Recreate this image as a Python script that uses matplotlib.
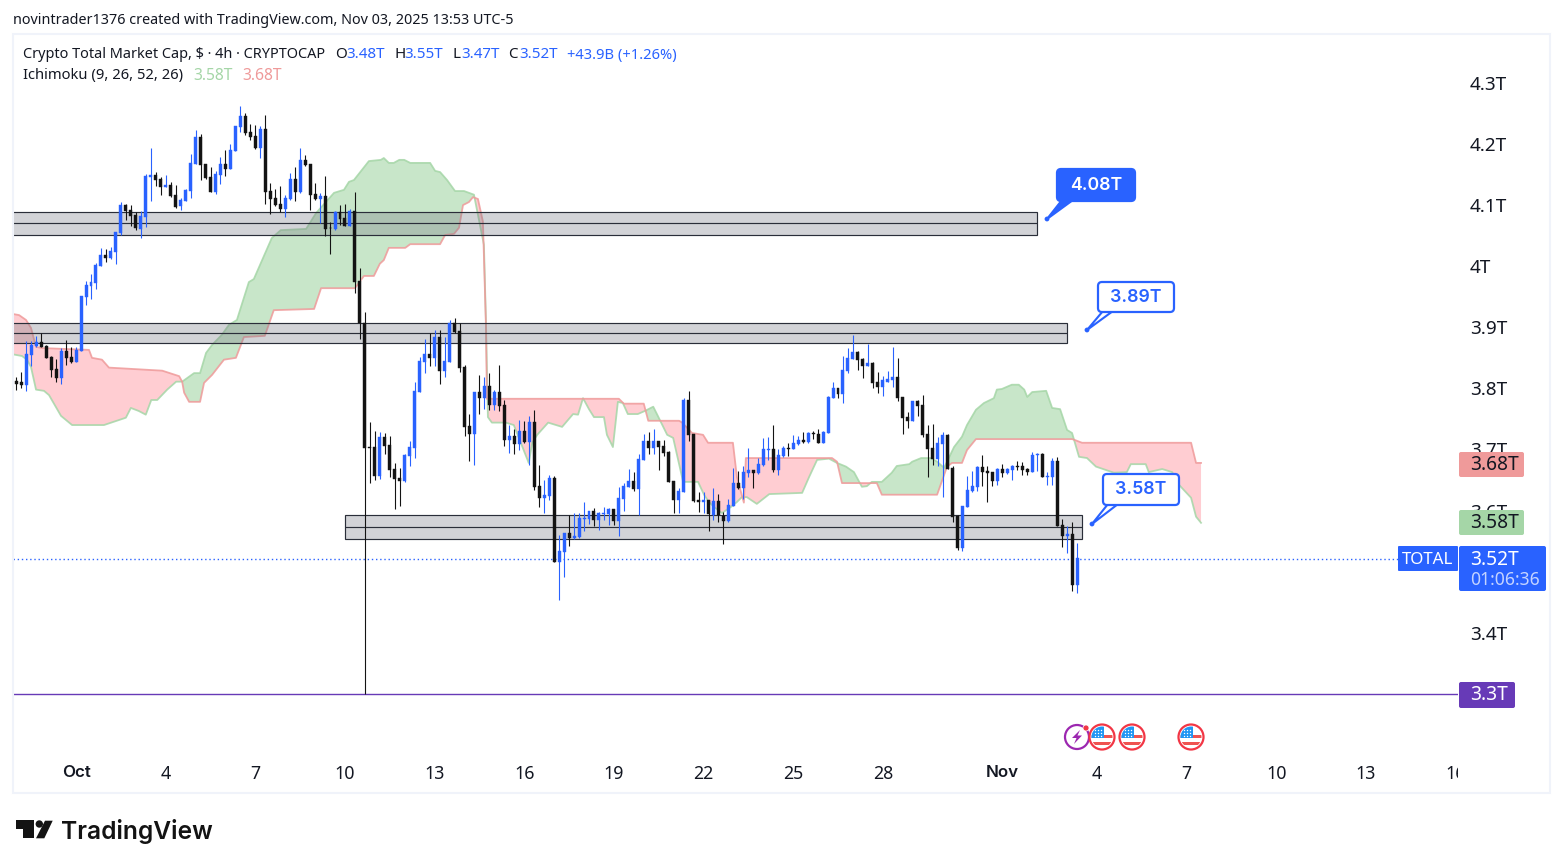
import numpy as np
import matplotlib
matplotlib.use('Agg')
import matplotlib.pyplot as plt
from matplotlib.patches import Rectangle, FancyBboxPatch, Circle, Polygon
from matplotlib.transforms import Affine2D

W, H = 1563, 868

# 4h candles, prices in trillions, one row is ten bars
opens = [3.812,
    3.812,3.810,3.806,3.855,3.870,3.876,3.869,3.852,3.831,3.817,
    3.861,3.852,3.843,3.862,3.950,3.968,3.973,4.000,4.018,4.014,
    4.023,4.054,4.100,4.092,4.084,4.061,4.081,4.146,4.149,4.143,
    4.130,4.133,4.117,4.099,4.107,4.123,4.167,4.212,4.167,4.146,
    4.122,4.149,4.167,4.159,4.189,4.228,4.246,4.220,4.213,4.194,
    4.225,4.123,4.112,4.102,4.094,4.110,4.143,4.122,4.174,4.167,
    4.118,4.110,4.115,4.063,4.061,4.089,4.079,4.066,4.091,3.976,
    3.907,3.704,3.704,3.657,3.721,3.707,3.668,3.654,3.649,3.690,
    3.703,3.794,3.843,3.856,3.850,3.884,3.829,3.843,3.907,3.894,
    3.835,3.739,3.725,3.794,3.784,3.804,3.773,3.794,3.773,3.716,
    3.722,3.709,3.730,3.712,3.745,3.640,3.621,3.624,3.654,3.516,
    3.532,3.564,3.555,3.557,3.586,3.586,3.600,3.585,3.595,3.595,
    3.603,3.583,3.619,3.639,3.649,3.636,3.683,3.714,3.703,3.714,
    3.706,3.696,3.649,3.617,3.631,3.781,3.725,3.618,3.614,3.618,
    3.593,3.616,3.591,3.583,3.608,3.645,3.637,3.662,3.667,3.662,
    3.675,3.699,3.701,3.667,3.690,3.703,3.701,3.709,3.716,3.712,
    3.727,3.725,3.711,3.727,3.784,3.801,3.791,3.829,3.848,3.860,
    3.848,3.837,3.842,3.811,3.802,3.811,3.814,3.819,3.786,3.753,
    3.747,3.780,3.773,3.725,3.703,3.685,3.709,3.724,3.670,3.591,
    3.539,3.606,3.632,3.639,3.672,3.665,3.663,3.649,3.668,3.662,
    3.667,3.673,3.673,3.668,3.663,3.691,3.693,3.655,3.655,3.681,
    3.577,3.559,3.562,3.478]
closes = [3.808,
    3.807,3.806,3.856,3.871,3.876,3.868,3.850,3.830,3.817,3.861,
    3.850,3.843,3.863,3.951,3.969,3.974,4.002,4.018,4.014,4.025,
    4.056,4.100,4.091,4.082,4.062,4.082,4.148,4.149,4.141,4.130,
    4.133,4.115,4.097,4.109,4.125,4.169,4.212,4.166,4.145,4.122,
    4.151,4.167,4.159,4.190,4.230,4.246,4.218,4.212,4.194,4.225,
    4.122,4.110,4.100,4.094,4.112,4.143,4.122,4.174,4.166,4.117,
    4.110,4.115,4.061,4.062,4.089,4.077,4.066,4.091,3.974,3.907,
    3.703,3.703,3.657,3.721,3.706,3.667,3.652,3.649,3.691,3.704,
    3.796,3.845,3.856,3.850,3.884,3.829,3.845,3.907,3.892,3.834,
    3.737,3.725,3.794,3.784,3.804,3.773,3.794,3.771,3.716,3.722,
    3.709,3.730,3.712,3.745,3.639,3.621,3.626,3.654,3.516,3.534,
    3.564,3.555,3.559,3.588,3.588,3.600,3.585,3.596,3.596,3.603,
    3.583,3.621,3.640,3.649,3.636,3.685,3.714,3.703,3.714,3.704,
    3.694,3.647,3.617,3.632,3.781,3.724,3.616,3.614,3.618,3.595,
    3.616,3.593,3.583,3.609,3.645,3.637,3.663,3.667,3.662,3.676,
    3.701,3.701,3.667,3.691,3.703,3.701,3.711,3.716,3.712,3.727,
    3.725,3.711,3.729,3.786,3.801,3.791,3.830,3.850,3.860,3.847,
    3.837,3.842,3.809,3.802,3.814,3.816,3.819,3.784,3.752,3.747,
    3.780,3.771,3.724,3.701,3.685,3.711,3.724,3.668,3.590,3.539,
    3.608,3.634,3.640,3.672,3.663,3.662,3.649,3.668,3.662,3.668,
    3.673,3.672,3.667,3.663,3.691,3.693,3.655,3.657,3.681,3.575,
    3.559,3.562,3.478,3.523]
highs = [3.820,
    3.819,3.827,3.877,3.877,3.885,3.890,3.871,3.853,3.848,3.866,
    3.879,3.868,3.867,3.951,3.976,3.987,4.005,4.030,4.028,4.032,
    4.056,4.105,4.101,4.100,4.088,4.091,4.151,4.194,4.154,4.146,
    4.149,4.137,4.133,4.111,4.127,4.184,4.223,4.217,4.167,4.163,
    4.156,4.179,4.190,4.200,4.230,4.262,4.250,4.233,4.231,4.230,
    4.248,4.136,4.127,4.131,4.117,4.153,4.163,4.194,4.182,4.168,
    4.136,4.120,4.148,4.072,4.091,4.100,4.102,4.094,4.122,3.997,
    3.925,3.745,3.730,3.729,3.727,3.722,3.678,3.670,3.693,3.714,
    3.811,3.852,3.881,3.890,3.896,3.896,3.884,3.912,3.916,3.907,
    3.838,3.758,3.794,3.822,3.819,3.825,3.797,3.838,3.781,3.740,
    3.734,3.748,3.747,3.755,3.765,3.675,3.650,3.658,3.657,3.560,
    3.564,3.592,3.596,3.596,3.614,3.600,3.604,3.598,3.606,3.604,
    3.603,3.639,3.645,3.668,3.663,3.693,3.725,3.729,3.734,3.714,
    3.716,3.698,3.649,3.637,3.784,3.796,3.725,3.631,3.631,3.618,
    3.637,3.627,3.598,3.619,3.670,3.665,3.673,3.703,3.667,3.686,
    3.719,3.721,3.740,3.701,3.706,3.711,3.724,3.722,3.729,3.729,
    3.730,3.734,3.730,3.788,3.811,3.801,3.853,3.866,3.888,3.861,
    3.850,3.873,3.843,3.827,3.821,3.829,3.868,3.850,3.786,3.762,
    3.780,3.781,3.789,3.740,3.742,3.721,3.729,3.725,3.673,3.593,
    3.608,3.657,3.665,3.673,3.691,3.673,3.663,3.670,3.676,3.670,
    3.675,3.681,3.680,3.670,3.696,3.694,3.694,3.663,3.686,3.688,
    3.586,3.575,3.582,3.547]
lows = [3.808,
    3.797,3.801,3.796,3.837,3.868,3.867,3.849,3.818,3.810,3.808,
    3.839,3.842,3.843,3.862,3.937,3.946,3.963,4.000,4.007,4.012,
    4.004,4.051,4.076,4.066,4.059,4.046,4.064,4.107,4.131,4.117,
    4.130,4.113,4.095,4.092,4.107,4.112,4.167,4.141,4.143,4.122,
    4.118,4.135,4.148,4.159,4.189,4.220,4.215,4.207,4.191,4.177,
    4.102,4.086,4.099,4.089,4.081,4.109,4.107,4.120,4.164,4.092,
    4.109,4.070,4.050,4.020,4.059,4.068,4.066,4.066,3.956,3.881,
    3.300,3.645,3.650,3.652,3.693,3.655,3.603,3.608,3.647,3.673,
    3.686,3.794,3.825,3.837,3.837,3.807,3.819,3.843,3.891,3.827,
    3.722,3.681,3.675,3.758,3.766,3.765,3.765,3.763,3.706,3.694,
    3.693,3.699,3.711,3.675,3.634,3.606,3.596,3.617,3.516,3.454,
    3.492,3.542,3.554,3.555,3.567,3.578,3.575,3.568,3.585,3.577,
    3.577,3.559,3.600,3.639,3.632,3.593,3.683,3.693,3.693,3.667,
    3.690,3.647,3.596,3.596,3.631,3.714,3.614,3.598,3.596,3.567,
    3.585,3.582,3.546,3.582,3.608,3.636,3.619,3.655,3.637,3.660,
    3.673,3.683,3.663,3.658,3.688,3.690,3.701,3.707,3.711,3.711,
    3.717,3.711,3.711,3.727,3.784,3.784,3.776,3.825,3.848,3.830,
    3.817,3.837,3.801,3.793,3.788,3.811,3.802,3.780,3.725,3.735,
    3.747,3.755,3.721,3.655,3.675,3.673,3.622,3.668,3.582,3.536,
    3.534,3.606,3.631,3.632,3.640,3.614,3.640,3.642,3.655,3.660,
    3.650,3.667,3.658,3.658,3.663,3.665,3.655,3.642,3.642,3.575,
    3.541,3.531,3.469,3.465]

# ichimoku leading spans, read at the bars where they change
span_a_bars = [0.14,2.14,3.15,3.95,4.96,6.56,7.57,9.98,12.2,18.6,21.2,23.0,24.0,25.6,27.0,28.1,29.3,31.3,33.1,34.3,
    36.7,37.9,39.1,40.3,42.3,43.7,45.3,47.7,48.7,52.3,54.1,59.2,61.2,64.8,66.8,67.8,68.8,71.8,74.2,74.8,
    75.8,76.8,77.9,78.9,80.1,84.1,85.1,86.1,87.5,89.1,90.9,92.9,94.9,95.3,95.7,96.5,99.3,100.9,103.9,104.6,
    105.6,107.8,110.6,112.8,113.8,114.8,116.0,117.0,119.0,119.6,120.8,121.8,122.8,123.8,125.8,127.2,128.9,129.7,131.7,132.9,
    134.9,137.9,139.1,140.1,141.1,142.7,144.5,145.7,146.7,147.7,149.7,152.2,158.8,160.2,161.8,164.2,165.8,167.6,169.2,170.8,
    171.8,172.8,174.8,176.8,177.8,180.3,180.9,182.7,184.7,185.9,187.3,187.9,189.3,190.9,191.9,193.7,195.3,197.3,197.9,198.9,
    200.9,202.3,203.4,204.0,205.0,207.8,209.0,210.6,212.0,213.0,214.4,216.0,217.8,221.4,224.0,224.8,227.8,228.4,231.1,233.1,
    234.5,236.9,237.9,238.9]
span_a = [3.856,3.853,3.847,3.835,3.798,3.796,3.789,3.755,3.740,3.740,3.747,3.752,3.768,3.763,3.757,3.781,3.781,3.798,3.811,3.811,
    3.825,3.825,3.858,3.871,3.888,3.904,3.912,3.974,3.979,4.046,4.059,4.061,4.087,4.120,4.125,4.138,4.141,4.172,4.174,4.177,
    4.169,4.169,4.174,4.174,4.169,4.169,4.156,4.154,4.141,4.123,4.123,4.117,4.035,3.912,3.753,3.744,3.744,3.740,3.678,3.711,
    3.724,3.744,3.737,3.758,3.757,3.784,3.766,3.753,3.753,3.724,3.704,3.778,3.776,3.758,3.758,3.763,3.770,3.757,3.724,3.719,
    3.647,3.647,3.626,3.614,3.606,3.596,3.606,3.614,3.622,3.622,3.611,3.627,3.629,3.655,3.683,3.685,3.678,3.672,3.663,3.639,
    3.640,3.647,3.647,3.662,3.673,3.676,3.680,3.686,3.686,3.680,3.670,3.680,3.704,3.721,3.740,3.765,3.776,3.784,3.798,3.799,
    3.806,3.806,3.798,3.786,3.794,3.796,3.768,3.766,3.732,3.727,3.688,3.686,3.672,3.662,3.663,3.676,3.676,3.663,3.668,3.663,
    3.642,3.621,3.590,3.580]
span_b_bars = [0.14,1.54,2.95,3.95,4.96,6.16,15.6,16.2,18.2,19.6,30.3,33.7,34.3,34.7,35.7,37.9,38.7,40.3,42.7,45.1,
    46.7,50.9,52.7,60.8,62.2,69.0,70.8,72.8,74.0,74.8,75.8,79.1,80.1,86.1,87.1,88.9,89.9,90.7,91.9,92.7,
    93.7,94.7,95.3,95.5,122.0,123.0,127.0,127.9,134.1,134.7,136.7,138.9,139.9,144.9,145.7,147.1,147.5,164.8,165.8,166.8,
    173.8,174.8,185.9,187.9,188.9,190.9,191.9,193.7,213.0,213.4,215.0,236.9,237.9,238.9]
span_b = [3.922,3.920,3.912,3.899,3.868,3.866,3.863,3.850,3.847,3.834,3.829,3.820,3.811,3.793,3.778,3.778,3.809,3.822,3.847,3.850,
    3.884,3.886,3.928,3.930,3.964,3.964,3.984,3.984,4.004,4.010,4.030,4.030,4.036,4.036,4.051,4.053,4.063,4.100,4.105,4.113,
    4.110,4.073,3.904,3.783,3.783,3.775,3.775,3.747,3.747,3.744,3.727,3.724,3.711,3.711,3.655,3.613,3.686,3.686,3.680,3.645,
    3.645,3.626,3.626,3.672,3.678,3.678,3.699,3.717,3.717,3.716,3.711,3.711,3.678,3.678]

# drawn zones: top, middle, bottom price, first and last bar
zone_tops = [4.088, 3.907, 3.592]
zone_mids = [4.070, 3.890, 3.573]
zone_bottoms = [4.051, 3.874, 3.553]
zone_starts = [-5, -5, 67.0]
zone_ends = [206.0, 212.0, 215.0]

last_price = 3.52
target_price = 3.30

y_ticks = [3.4, 3.6, 3.7, 3.8, 3.9, 4.0, 4.1, 4.2, 4.3]
y_tick_labels = ['3.4T', '3.6T', '3.7T', '3.8T', '3.9T', '4T', '4.1T', '4.2T', '4.3T']
x_ticks = [13.0, 31.0, 49.0, 67.0, 85.0, 103.0, 121.0, 139.0, 157.0, 175.0, 199.0, 218.0, 236.0, 254.0, 272.0, 290.0]
x_tick_labels = ['Oct', '4', '7', '10', '13', '16', '19', '22', '25', '28', 'Nov', '4', '7', '10', '13', '16']

BLUE = '#2962ff'
BLACK = '#131313'
INK = '#131722'
FONT = 'Noto Sans'

plt.rcParams['font.family'] = FONT

fig = plt.figure(figsize=(W / 100, H / 100), dpi=100, facecolor='white')
# plot area in pixels: x 13..1458, y 34..755
ax = fig.add_axes([13 / W, 1 - 755 / H, 1445 / W, 721 / H])
ax.set_xlim(0.336, 290.5)
ax.set_ylim(3.200, 4.380)
for s in ax.spines.values():
    s.set_visible(False)
ax.tick_params(length=0)
ax.yaxis.tick_right()
ax.set_yticks(y_ticks, y_tick_labels, fontsize=13.6, color=INK, family=FONT)
ax.set_xticks(x_ticks, x_tick_labels, fontsize=12.8, color=INK, family=FONT)
ax.tick_params(axis='y', pad=8.6)
ax.tick_params(axis='x', pad=7)
for i in (0, 10):
    ax.get_xticklabels()[i].set_family('Inter')
    ax.get_xticklabels()[i].set_fontweight(600)
    ax.get_xticklabels()[i].set_fontsize(12.2)

# cloud
grid = np.linspace(span_a_bars[0], span_a_bars[-1], 6000)
a_line = np.interp(grid, span_a_bars, span_a)
b_line = np.interp(grid, span_b_bars, span_b)
ax.fill_between(grid, a_line, b_line, where=a_line >= b_line, color='#c8e6c9', lw=0, interpolate=True, zorder=1)
ax.fill_between(grid, a_line, b_line, where=a_line < b_line, color='#ffcdd2', lw=0, interpolate=True, zorder=1)
ax.plot(span_a_bars, span_a, color='#a5d6a7', lw=1.3, alpha=0.85, zorder=1.2)
ax.plot(span_b_bars, span_b, color='#ef9a9a', lw=1.3, alpha=0.85, zorder=1.3)

# zones
for top, mid, bottom, start, end in zip(zone_tops, zone_mids, zone_bottoms, zone_starts, zone_ends):
    ax.add_patch(Rectangle((start, bottom), end - start, top - bottom, facecolor=(0.47, 0.482, 0.525, 0.33),
                           edgecolor='#2a2e39', lw=0.85, zorder=2))
    ax.hlines(mid, start, end, color='#2a2e39', lw=0.85, zorder=2.1)

ax.axhline(last_price, color=BLUE, lw=1.0, ls=(0, (1, 2)), zorder=1.5)
ax.axhline(target_price, color='#673ab7', lw=1.0, zorder=1.5)

# candles
opens = np.array(opens)
closes = np.array(closes)
highs = np.array(highs)
lows = np.array(lows)
bars = np.arange(len(opens))
colors = [BLUE if c >= o else BLACK for o, c in zip(opens, closes)]
ax.vlines(bars, lows, highs, colors=colors, lw=0.8, zorder=3)
ax.bar(bars, np.abs(closes - opens), bottom=np.minimum(opens, closes), width=0.6,
       color=colors, edgecolor=colors, lw=0.3, zorder=3.1)

# everything below sits on the canvas in pixels, y measured from the top
px = Affine2D().scale(1, -1).translate(0, H)


def box(x0, y0, x1, y1, face, edge='none', lw=0, round_px=2, z=6):
    p = FancyBboxPatch((x0 + round_px, y0 + round_px), x1 - x0 - 2 * round_px, y1 - y0 - 2 * round_px,
                       boxstyle='round,pad=%s,rounding_size=%s' % (round_px, round_px),
                       facecolor=face, edgecolor=edge, lw=lw, transform=px, zorder=z)
    fig.add_artist(p)
    return p


def label(x, y, s, color=INK, size=13.8, ha='left', va='center', weight='normal', z=7, family=FONT):
    return fig.text(x, y, s, color=color, fontsize=size, ha=ha, va=va, fontweight=weight, transform=px, zorder=z,
                    family=family)


# frame
fig.add_artist(Rectangle((13, 34), 1537, 759, facecolor='none', edgecolor='#f0f3fa', lw=1.5, transform=px, zorder=4))
# hides the part of the last date that runs under the price scale
fig.add_artist(Rectangle((1458, 760), 80, 28, facecolor='white', edgecolor='none', transform=px, zorder=5))

# price scale tags
box(1459, 452, 1524, 477, '#ef9a9a')
label(1470, 465, '3.68T')
box(1459, 510, 1524, 535, '#a5d6a7')
label(1470, 523, '3.58T')
box(1398, 546, 1458, 571, BLUE, round_px=1)
label(1427.5, 559.5, 'TOTAL', color='white', ha='center', size=12.2)
box(1459, 546, 1546, 591, BLUE)
label(1470, 560, '3.52T', color='white')
label(1470, 580, '01:06:36', color='#c4d3ff', size=12.6)
box(1459, 682, 1515, 708, '#673ab7')
label(1470, 695, '3.3T', color='white')

# callouts: box, tail base, tip, filled or not
callouts = [
    ('4.08T', (1057, 169, 1135, 201), (1062, 1073), (1047, 219), True),
    ('3.89T', (1098, 282, 1174, 312), (1103, 1113), (1087, 330), False),
    ('3.58T', (1103, 474, 1179, 505), (1108, 1118), (1092, 524), False),
]
for text, (x0, y0, x1, y1), (t0, t1), tip, filled in callouts:
    fig.add_artist(Circle(tip, 2.4, facecolor=BLUE, edgecolor='none', transform=px, zorder=5))
    fig.add_artist(Polygon([(t0, y1 - 1), tip, (t1, y1 - 1)], closed=True, facecolor=BLUE if filled else 'white',
                           edgecolor=BLUE, lw=1.5, transform=px, zorder=5))
    box(x0, y0, x1, y1, BLUE if filled else 'white', edge=BLUE, lw=1.6, round_px=4, z=6)
    label((x0 + x1) / 2, (y0 + y1) / 2, text, color='white' if filled else BLUE, ha='center', size=12.8,
          weight=600, family='Inter')

# header
label(13, 20, 'novintrader1376 created with TradingView.com, Nov 03, 2025 13:53 UTC-5', size=10.35)
label(23, 55, 'Crypto Total Market Cap, $ · 4h · CRYPTOCAP', size=10.45)
for x, s, c in [(335, 'O', INK), (346, '3.48T', BLUE), (394, 'H', INK), (404, '3.55T', BLUE), (452, 'L', INK),
                (461, '3.47T', BLUE), (508, 'C', INK), (519, '3.52T', BLUE)]:
    label(x, 55, s, color=c, size=10.9)
label(567, 55, '+43.9B (+1.26%)', color=BLUE, size=10.6)
label(23, 76, 'Ichimoku (9, 26, 52, 26)', size=10.6)
label(193, 76, '3.58T', color='#a5d6a7', size=11.2)
label(242, 76, '3.68T', color='#ef9a9a', size=11.2)

# event marks under the candles
fig.add_artist(Circle((1077, 737), 12, facecolor='white', edgecolor='#9c27b0', lw=1.6, transform=px, zorder=5))
fig.add_artist(Polygon([(1080, 730), (1072, 738), (1076.5, 738), (1074, 744), (1082, 735.5), (1077.5, 735.5)],
                       closed=True, facecolor='#9c27b0', edgecolor='none', transform=px, zorder=5))
fig.add_artist(Circle((1086, 728), 3, facecolor='#f23645', edgecolor='white', lw=0.5, transform=px, zorder=5.5))
for cx in [1102, 1132, 1191]:
    fig.add_artist(Circle((cx, 737), 12.5, facecolor='white', edgecolor='#f23645', lw=1.6, transform=px, zorder=6))
    inner = Circle((cx, 737), 10.5, transform=px)
    for r in [(cx - 11, 735, 22, 3), (cx - 11, 742, 22, 3)]:
        st = Rectangle(r[:2], r[2], r[3], facecolor='#ef5350', edgecolor='none', transform=px, zorder=6.1)
        fig.add_artist(st)
        st.set_clip_path(inner)
    canton = Rectangle((cx - 11, 726), 12.5, 12, facecolor='#2196f3', edgecolor='none', transform=px, zorder=6.2)
    fig.add_artist(canton)
    canton.set_clip_path(inner)
    for dx in [-6.5, -3.5, -0.5]:
        for dy in [-6.5, -3.5, -0.5]:
            fig.add_artist(Circle((cx + dx, 737 + dy), 0.7, facecolor='white', edgecolor='none', transform=px, zorder=6.3))

# logo
fig.add_artist(Polygon([(15.5, 820), (34.3, 820), (34.3, 838.3), (23.3, 838.3), (23.3, 829), (15.5, 829)],
                       closed=True, facecolor=BLACK, edgecolor='none', transform=px))
fig.add_artist(Circle((39.3, 824), 3.7, facecolor=BLACK, edgecolor='none', transform=px))
fig.add_artist(Polygon([(45, 820.7), (52.7, 820.7), (44.3, 838.3), (36, 838.3)],
                       closed=True, facecolor=BLACK, edgecolor='none', transform=px))
label(61.5, 831.5, 'TradingView', color=BLACK, size=17.7, weight=600, family='Inter')

fig.savefig('out.png', dpi=100, facecolor='white')
